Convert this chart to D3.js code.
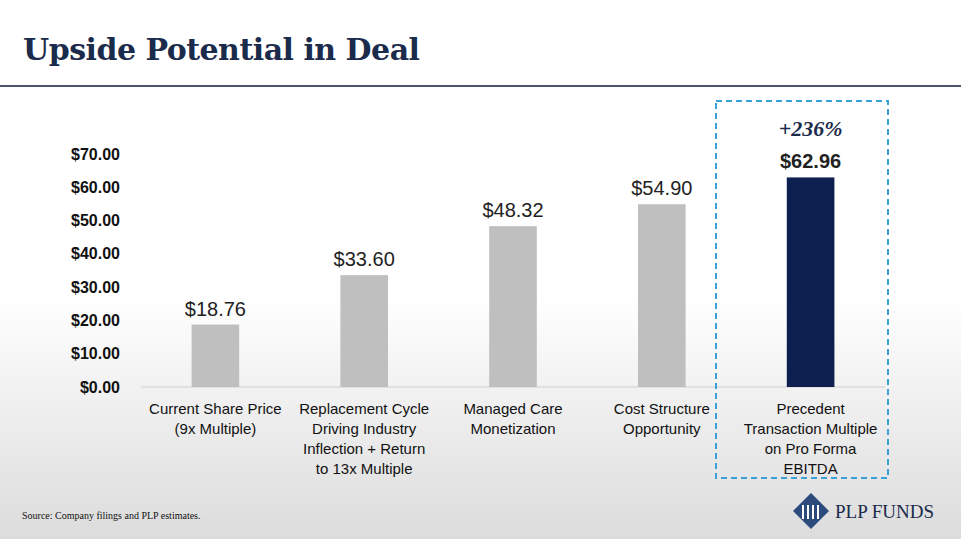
<!DOCTYPE html>
<html><head><meta charset="utf-8">
<script src="https://cdn.jsdelivr.net/npm/d3@7"></script>
<style>body{margin:0;overflow:hidden}</style>
</head><body>
<script>
var categories = [
  ["Current Share Price", "(9x Multiple)"],
  ["Replacement Cycle", "Driving Industry", "Inflection + Return", "to 13x Multiple"],
  ["Managed Care", "Monetization"],
  ["Cost Structure", "Opportunity"],
  ["Precedent", "Transaction Multiple", "on Pro Forma", "EBITDA"]
];
var values = [18.76, 33.60, 48.32, 54.90, 62.96];
var ticks = [0, 10, 20, 30, 40, 50, 60, 70];
var upside = "+236%";

var W = 961, H = 539;
var svg = d3.select("body").append("svg").attr("width", W).attr("height", H);
var defs = svg.append("defs");
var grad = defs.append("linearGradient").attr("id", "bg").attr("x1", 0).attr("x2", 0).attr("y1", 0).attr("y2", 1);
grad.append("stop").attr("offset", "0.55").attr("stop-color", "#ffffff");
grad.append("stop").attr("offset", "1").attr("stop-color", "#dcdcdc");
svg.append("rect").attr("width", W).attr("height", H).attr("fill", "url(#bg)");

svg.append("text").attr("x", 23).attr("y", 60).text("Upside Potential in Deal")
  .attr("font-family", "DejaVu Serif, serif").attr("font-weight", "bold")
  .attr("font-size", 30).attr("fill", "#1b2b4b").attr("textLength", 397);
svg.append("line").attr("x1", 0).attr("x2", W).attr("y1", 86).attr("y2", 86)
  .attr("stroke", "#4b5567").attr("stroke-width", 2);

var x = d3.scaleBand().domain(d3.range(values.length)).range([141, 885]).paddingInner(0.68).paddingOuter(0.34);
var y = d3.scaleLinear().domain([0, 70]).range([387, 154]);

var yAxis = svg.append("g").attr("transform", "translate(141,0)")
  .call(d3.axisLeft(y).tickValues(ticks).tickSize(0).tickPadding(21).tickFormat(function (d) { return "$" + d.toFixed(2); }));
yAxis.select(".domain").remove();
yAxis.selectAll("text").attr("font-family", "Liberation Sans, Arial, sans-serif")
  .attr("font-size", 16).attr("font-weight", "bold").attr("fill", "#111");

svg.append("line").attr("x1", 141).attr("x2", 885).attr("y1", y(0)).attr("y2", y(0))
  .attr("stroke", "#cfcfcf").attr("stroke-width", 1);

svg.selectAll("rect.bar").data(values).enter().append("rect").attr("class", "bar")
  .attr("x", function (d, i) { return x(i); }).attr("width", x.bandwidth())
  .attr("y", function (d) { return y(d); }).attr("height", function (d) { return y(0) - y(d); })
  .attr("fill", function (d, i) { return i === values.length - 1 ? "#0c1f4f" : "#bfbfbf"; });

svg.selectAll("text.val").data(values).enter().append("text").attr("class", "val")
  .attr("x", function (d, i) { return x(i) + x.bandwidth() / 2; })
  .attr("y", function (d) { return y(d) - 9; })
  .attr("text-anchor", "middle").attr("font-family", "Liberation Sans, Arial, sans-serif")
  .attr("font-size", 20).attr("fill", "#222")
  .attr("font-weight", function (d, i) { return i === values.length - 1 ? "bold" : "normal"; })
  .text(function (d) { return "$" + d.toFixed(2); });

var cat = svg.selectAll("text.cat").data(categories).enter().append("text").attr("class", "cat")
  .attr("text-anchor", "middle").attr("font-family", "Liberation Sans, Arial, sans-serif")
  .attr("font-size", 15).attr("fill", "#111");
cat.each(function (lines, i) {
  d3.select(this).selectAll("tspan").data(lines).enter().append("tspan")
    .attr("x", x(i) + x.bandwidth() / 2).attr("y", function (d, j) { return 414 + j * 20; })
    .text(function (d) { return d; });
});

var last = values.length - 1;
svg.append("rect").attr("x", 716).attr("y", 101).attr("width", 172).attr("height", 377)
  .attr("fill", "none").attr("stroke", "#3aa0d8").attr("stroke-width", 2).attr("stroke-dasharray", "6,4");
svg.append("text").attr("x", x(last) + x.bandwidth() / 2).attr("y", 136).attr("text-anchor", "middle")
  .attr("font-family", "Liberation Serif, serif").attr("font-weight", "bold").attr("font-style", "italic")
  .attr("font-size", 22).attr("fill", "#1b2b4b").text(upside);

svg.append("text").attr("x", 22).attr("y", 519).text("Source: Company filings and PLP estimates.")
  .attr("font-family", "Liberation Serif, serif").attr("font-size", 10).attr("fill", "#111");

var logo = svg.append("g").attr("transform", "translate(811,511)");
logo.append("path").attr("d", "M0,-18 L18,0 L0,18 L-18,0 Z").attr("fill", "#2c4a7c");
logo.append("path").attr("d", "M-8,-6 V8 M-3,-6 V8 M2,-6 V8 M7,-6 V8").attr("stroke", "#fff").attr("stroke-width", 2);
svg.append("text").attr("x", 835).attr("y", 518).text("PLP FUNDS")
  .attr("font-family", "Liberation Serif, serif").attr("font-size", 19).attr("fill", "#1b2b4b");
</script>
</body></html>
